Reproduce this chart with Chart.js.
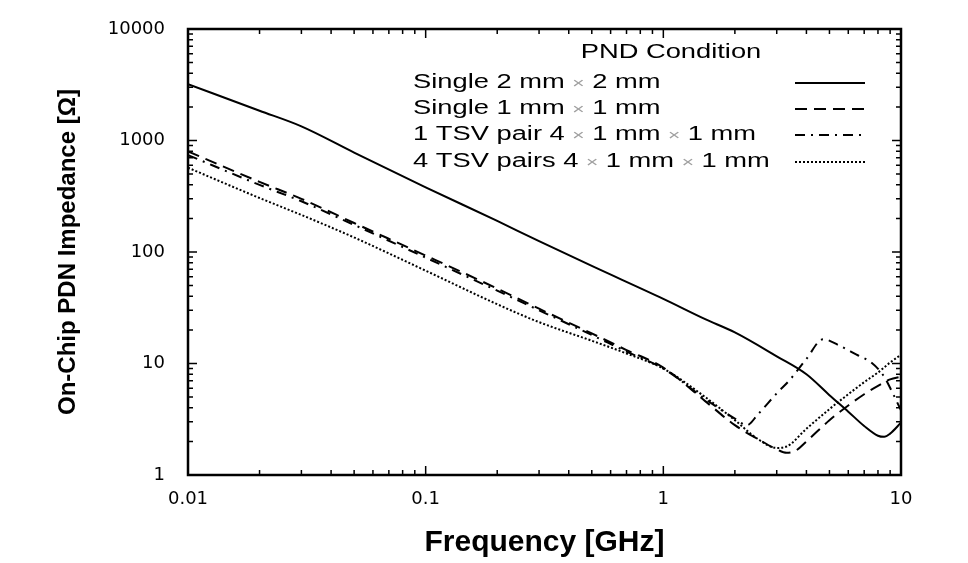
<!DOCTYPE html>
<html lang="en">
<head>
    <meta charset="UTF-8">
    <title>On-Chip PDN Impedance</title>
    <script src="https://cdn.jsdelivr.net/npm/chart.js"></script>
    <style>
        body {
            margin: 0;
            background: #ffffff;
        }
        #wrap {
            width: 968px;
            height: 563px;
        }
    </style>
</head>
<body>

<div id="wrap"><canvas id="pdnChart" width="968" height="563"></canvas></div>

<script>
    // Values (frequency in GHz, impedance in ohm)
    const seriesLabels = [
        'Single 2 mm × 2 mm',
        'Single 1 mm × 1 mm',
        '1 TSV pair 4 × 1 mm × 1 mm',
        '4 TSV pairs 4 × 1 mm × 1 mm'
    ];

    const single2Freq = [0.01, 0.02, 0.03, 0.05, 0.1, 0.2, 0.3, 0.5, 1, 1.5, 2, 3, 4, 5, 6, 7, 8, 8.5, 9, 10];
    const single2Z    = [3200, 1850, 1340, 780, 380, 190, 125, 75, 38, 25, 19, 11.6, 8.0, 5.2, 3.7, 2.75, 2.25, 2.2, 2.35, 2.95];

    const single1Freq = [0.01, 0.02, 0.03, 0.05, 0.1, 0.2, 0.3, 0.5, 0.7, 1, 1.5, 2, 2.5, 3, 3.3, 3.6, 4, 5, 6, 7, 8, 9, 10];
    const single1Z    = [800, 425, 300, 182, 93, 47, 31, 18.6, 13.2, 9.2, 4.6, 2.8, 2.1, 1.7, 1.58, 1.65, 2.0, 3.1, 4.2, 5.3, 6.3, 7.2, 7.6];

    const tsv1Freq = [0.01, 0.02, 0.03, 0.05, 0.1, 0.2, 0.3, 0.5, 0.7, 1, 1.5, 2, 2.25, 2.5, 3, 3.4, 4, 4.7, 5.5, 6.5, 7.5, 8.5, 9.2, 10];
    const tsv1Z    = [740, 400, 285, 175, 89, 45, 30, 18, 12.8, 9.0, 4.8, 3.2, 2.8, 3.5, 5.4, 7.1, 11, 16.5, 14.5, 12, 10.2, 7.6, 5.5, 3.8];

    const tsv4Freq = [0.01, 0.02, 0.03, 0.05, 0.1, 0.2, 0.3, 0.5, 0.7, 1, 1.5, 2, 2.5, 3, 3.3, 4, 5, 6, 7, 8, 9, 10];
    const tsv4Z    = [570, 305, 215, 135, 68, 34, 23.5, 16, 12.3, 9.0, 5.0, 3.1, 2.1, 1.75, 1.8, 2.6, 3.9, 5.3, 6.8, 8.3, 10.2, 12];

    const xTickValues = [0.01, 0.1, 1, 10];
    const yTickValues = [1, 10, 100, 1000, 10000];

    const lineDashes = [[], [12, 7], [10, 6, 2, 6], [2, 2]];

    function toPoints(xs, ys) {
        return xs.map((x, i) => ({ x: x, y: ys[i] }));
    }

    const seriesData = [
        toPoints(single2Freq, single2Z),
        toPoints(single1Freq, single1Z),
        toPoints(tsv1Freq, tsv1Z),
        toPoints(tsv4Freq, tsv4Z)
    ];

    const datasets = seriesData.map((pts, i) => ({
        label: seriesLabels[i],
        data: pts,
        borderColor: '#000000',
        borderWidth: 2,
        borderDash: lineDashes[i],
        pointRadius: 0,
        fill: false,
        cubicInterpolationMode: 'monotone'
    }));

    // minor tick values per decade
    function decadeTicks(values) {
        const out = [];
        for (let i = 0; i < values.length - 1; i++) {
            for (let m = 2; m <= 9; m++) out.push(values[i] * m);
        }
        return out;
    }

    // frame with inward ticks on all four sides
    const framePlugin = {
        id: 'frame',
        afterDatasetsDraw(chart) {
            const ctx = chart.ctx;
            const a = chart.chartArea;
            const xs = chart.scales.x;
            const ys = chart.scales.y;
            ctx.save();
            ctx.strokeStyle = '#000';
            ctx.lineWidth = 1.5;
            const drawX = (v, len) => {
                const px = xs.getPixelForValue(v);
                ctx.beginPath();
                ctx.moveTo(px, a.bottom); ctx.lineTo(px, a.bottom - len);
                ctx.moveTo(px, a.top); ctx.lineTo(px, a.top + len);
                ctx.stroke();
            };
            const drawY = (v, len) => {
                const py = ys.getPixelForValue(v);
                ctx.beginPath();
                ctx.moveTo(a.left, py); ctx.lineTo(a.left + len, py);
                ctx.moveTo(a.right, py); ctx.lineTo(a.right - len, py);
                ctx.stroke();
            };
            xTickValues.forEach(v => drawX(v, 9));
            decadeTicks(xTickValues).forEach(v => drawX(v, 5));
            yTickValues.forEach(v => drawY(v, 9));
            decadeTicks(yTickValues).forEach(v => drawY(v, 5));
            ctx.lineWidth = 2.5;
            ctx.strokeRect(a.left, a.top, a.right - a.left, a.bottom - a.top);
            ctx.restore();
        },
        afterDraw(chart) {
            // legend: text on the left, line sample on the right
            const ctx = chart.ctx;
            const stretch = 1.4;
            const font = '19.5px "Liberation Sans", Arial, sans-serif';
            ctx.save();
            ctx.fillStyle = '#000';
            ctx.textBaseline = 'middle';
            ctx.font = font;
            const title = 'PND Condition';
            const tw = ctx.measureText(title).width * stretch;
            ctx.save();
            ctx.translate(671 - tw / 2, 53);
            ctx.scale(stretch, 1);
            ctx.fillText(title, 0, 0);
            ctx.restore();

            const rowY = [83, 109, 135, 162];
            chart.data.datasets.forEach((ds, i) => {
                const y = rowY[i];
                let x = 413;
                const parts = ds.label.split('×');
                parts.forEach((p, k) => {
                    ctx.font = font;
                    ctx.fillStyle = '#000';
                    ctx.save();
                    ctx.translate(x, y);
                    ctx.scale(stretch, 1);
                    ctx.fillText(p, 0, 0);
                    ctx.restore();
                    x += ctx.measureText(p).width * stretch;
                    if (k < parts.length - 1) {
                        ctx.font = '15px "Liberation Sans", Arial, sans-serif';
                        ctx.fillStyle = '#a0a0a0';
                        ctx.save();
                        ctx.translate(x, y + 1);
                        ctx.scale(stretch, 1);
                        ctx.fillText('×', 0, 0);
                        ctx.restore();
                        x += ctx.measureText('×').width * stretch;
                    }
                });
                ctx.strokeStyle = '#000';
                ctx.lineWidth = 2;
                ctx.setLineDash(ds.borderDash);
                ctx.beginPath();
                ctx.moveTo(795, y);
                ctx.lineTo(865, y);
                ctx.stroke();
                ctx.setLineDash([]);
            });
            ctx.restore();
        }
    };

    const ctx = document.getElementById('pdnChart').getContext('2d');
    new Chart(ctx, {
        type: 'line',
        data: { datasets: datasets },
        plugins: [framePlugin],
        options: {
            responsive: false,
            animation: false,
            layout: {
                padding: { top: 29, right: 67, bottom: 0, left: 0 }
            },
            plugins: {
                legend: { display: false },
                tooltip: { enabled: false }
            },
            scales: {
                x: {
                    type: 'logarithmic',
                    min: 0.01,
                    max: 10,
                    afterBuildTicks: scale => {
                        scale.ticks = xTickValues.map(v => ({ value: v }));
                    },
                    afterFit: scale => {
                        scale.height = 88;
                        scale.paddingLeft = 0;
                        scale.paddingRight = 0;
                    },
                    grid: { display: false, drawTicks: false },
                    border: { display: false },
                    ticks: {
                        color: '#000',
                        padding: 14,
                        maxRotation: 0,
                        autoSkip: false,
                        font: { family: '"DejaVu Sans", sans-serif', size: 18 },
                        callback: v => String(v)
                    },
                    title: {
                        display: true,
                        text: 'Frequency [GHz]',
                        color: '#000',
                        padding: { top: 0, bottom: 2 },
                        font: { family: '"Liberation Sans", Arial, sans-serif', size: 30, weight: 'bold' }
                    }
                },
                y: {
                    type: 'logarithmic',
                    min: 1,
                    max: 10000,
                    afterBuildTicks: scale => {
                        scale.ticks = yTickValues.map(v => ({ value: v }));
                    },
                    afterFit: scale => {
                        scale.width = 188;
                        scale.paddingTop = 0;
                        scale.paddingBottom = 0;
                    },
                    grid: { display: false, drawTicks: false },
                    border: { display: false },
                    ticks: {
                        color: '#000',
                        padding: 23,
                        autoSkip: false,
                        font: { family: '"DejaVu Sans", sans-serif', size: 18 },
                        callback: v => String(v)
                    },
                    title: {
                        display: true,
                        text: 'On-Chip PDN Impedance [Ω]',
                        color: '#000',
                        padding: { top: 54, bottom: 0 },
                        font: { family: '"Liberation Sans", Arial, sans-serif', size: 24, weight: 'bold' }
                    }
                }
            }
        }
    });
</script>

</body>
</html>
